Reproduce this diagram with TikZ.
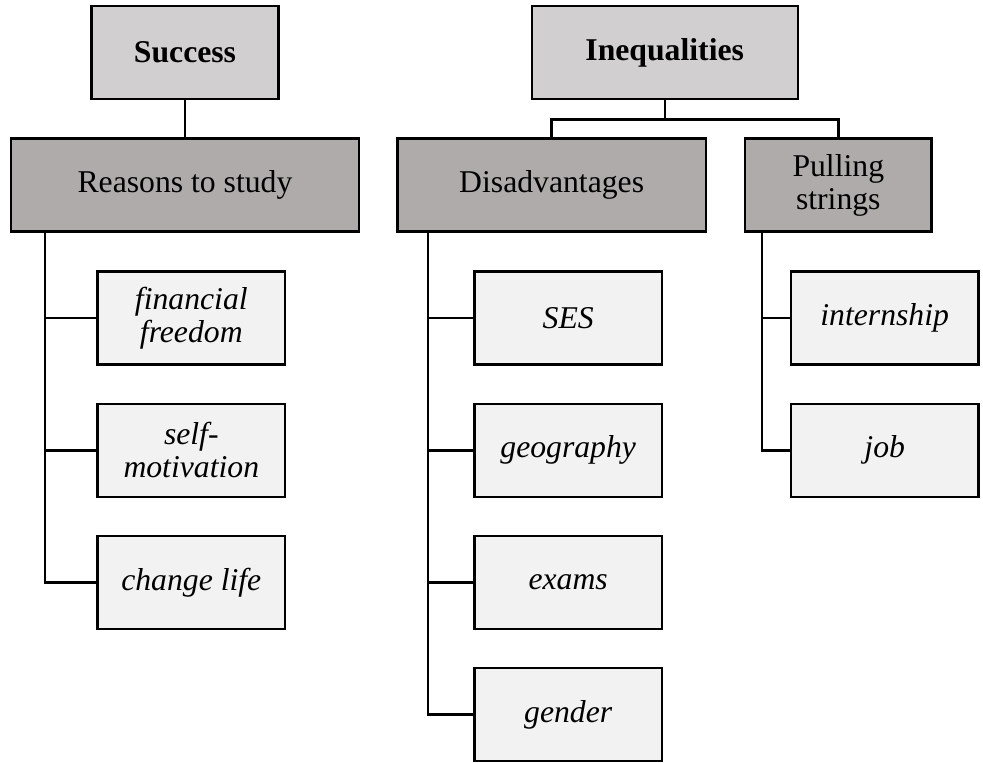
\documentclass[tikz,border=0pt]{standalone}
\usepackage{fontspec}
\setmainfont{Liberation Serif}
\definecolor{topgray}{HTML}{D1CFD0}
\definecolor{midgray}{HTML}{AFABAA}
\definecolor{leafgray}{HTML}{F2F2F2}
\begin{document}
\begin{tikzpicture}[x=1pt,y=-1pt,
  box/.style={draw=black, line width=2.4pt, rectangle, inner sep=0pt,
    minimum height=93.3pt, align=center, font=\fontsize{31.7}{33}\selectfont},
  topbox/.style={box, fill=topgray, font=\fontsize{31.7}{33}\selectfont\bfseries},
  midbox/.style={box, fill=midgray},
  leafbox/.style={box, fill=leafgray, minimum width=187.3pt, minimum height=93pt,
    font=\fontsize{31.7}{33}\selectfont\itshape},
  conn/.style={draw=black, line width=2.4pt}]
\useasboundingbox (0,0) rectangle (983,763);
% top level
\node[topbox, minimum width=186.7pt] (success) at (185,52.6) {Success};
\node[topbox, minimum width=266pt] (ineq) at (664.7,52.6) {Inequalities};
% second level
\node[midbox, minimum width=348pt] (reasons) at (185,185) {Reasons to study};
\node[midbox, minimum width=308.7pt] (disad) at (551.65,185) {Disadvantages};
\node[midbox, minimum width=186.7pt] (pull) at (838.3,185) {Pulling\\strings};
% leaves
\node[leafbox] (ff) at (191.3,318) {financial\\freedom};
\node[leafbox] (sm) at (191.3,450.3) {self-\\motivation};
\node[leafbox] (cl) at (191.3,582.6) {change life};
\node[leafbox] (ses) at (568.2,318) {SES};
\node[leafbox] (geo) at (568.2,450.3) {geography};
\node[leafbox] (exams) at (568.2,582.6) {exams};
\node[leafbox] (gender) at (568.2,714.5) {gender};
\node[leafbox] (intern) at (884.7,318) {internship};
\node[leafbox] (job) at (884.7,450.3) {job};
% connectors
\draw[conn] (success.south) -- (reasons.north);
\coordinate (ij) at ([yshift=-19pt]ineq.south);
\draw[conn] (ineq.south) -- (ij);
\draw[conn] (disad.north) |- (ij) -| (pull.north);
\coordinate (rb) at ([xshift=35pt]reasons.south west);
\coordinate (db) at ([xshift=32pt]disad.south west);
\coordinate (pb) at ([xshift=18.3pt]pull.south west);
\draw[conn] (rb) |- (cl.west);
\draw[conn] (rb |- ff.west) -- (ff.west);
\draw[conn] (rb |- sm.west) -- (sm.west);
\draw[conn] (db) |- (gender.west);
\draw[conn] (db |- ses.west) -- (ses.west);
\draw[conn] (db |- geo.west) -- (geo.west);
\draw[conn] (db |- exams.west) -- (exams.west);
\draw[conn] (pb) |- (job.west);
\draw[conn] (pb |- intern.west) -- (intern.west);
\end{tikzpicture}
\end{document}
